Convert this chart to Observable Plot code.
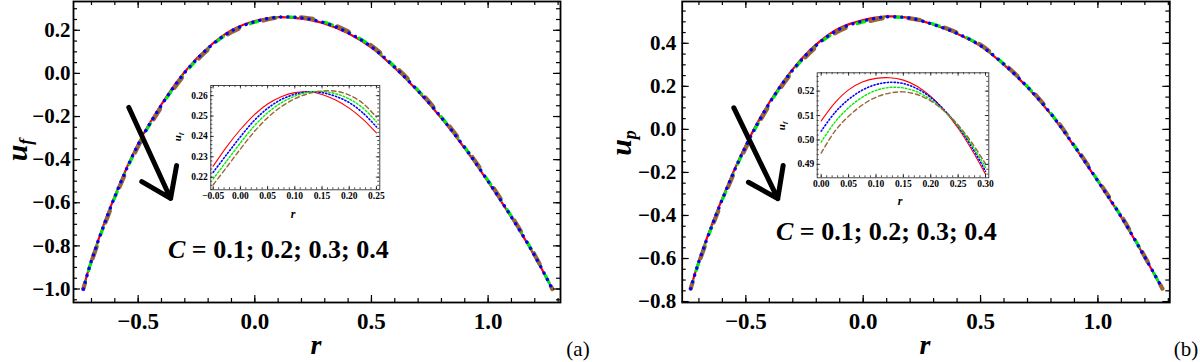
<!DOCTYPE html>
<html>
<head>
<meta charset="utf-8">
<script src="https://cdn.jsdelivr.net/npm/d3@7"></script>
<script src="https://cdn.jsdelivr.net/npm/@observablehq/plot@0.6"></script>
<style>
  html, body { margin: 0; padding: 0; background: #fff; }
  #root { position: relative; width: 1200px; height: 362px; overflow: hidden; font-family: "Liberation Serif", "Times New Roman", serif; color: #000; }
  #root > svg { position: absolute; }
  .lbl { position: absolute; white-space: nowrap; line-height: 1.15; }
</style>
</head>
<body>
<div id="root"></div>
<script>
// ---------------- DATA ----------------
const C_VALUES = [0.1, 0.2, 0.3, 0.4];

// main panels: radial coordinate r
const rMain = [-0.735, -0.7, -0.6, -0.5, -0.4, -0.3, -0.2, -0.1, 0, 0.1, 0.2, 0.3, 0.4, 0.5, 0.6, 0.7, 0.8, 0.9, 1.0, 1.1, 1.2, 1.275];

// panel (a): u_f for C = 0.1, 0.2, 0.3, 0.4
const uA_C1 = [-1.000, -0.865, -0.568, -0.326, -0.143, 0.008, 0.120, 0.200, 0.243, 0.261, 0.254, 0.231, 0.186, 0.120, 0.025, -0.084, -0.208, -0.348, -0.503, -0.668, -0.848, -1.000];
const uA_C2 = [-1.000, -0.868, -0.572, -0.330, -0.147, 0.004, 0.117, 0.197, 0.240, 0.261, 0.257, 0.234, 0.189, 0.123, 0.028, -0.081, -0.205, -0.345, -0.500, -0.666, -0.846, -1.000];
const uA_C3 = [-1.000, -0.871, -0.576, -0.334, -0.151, 0.000, 0.114, 0.194, 0.237, 0.260, 0.258, 0.237, 0.192, 0.126, 0.031, -0.078, -0.202, -0.342, -0.497, -0.663, -0.844, -1.000];
const uA_C4 = [-1.000, -0.874, -0.580, -0.338, -0.155, -0.004, 0.111, 0.191, 0.234, 0.259, 0.260, 0.240, 0.195, 0.129, 0.034, -0.075, -0.199, -0.339, -0.494, -0.660, -0.842, -1.000];

// panel (b): u_p for C = 0.1, 0.2, 0.3, 0.4
const uB_C1 = [-0.740, -0.611, -0.320, -0.073, 0.125, 0.280, 0.395, 0.471, 0.508, 0.525, 0.518, 0.486, 0.444, 0.387, 0.300, 0.195, 0.070, -0.080, -0.242, -0.409, -0.595, -0.740];
const uB_C2 = [-0.740, -0.614, -0.324, -0.077, 0.121, 0.276, 0.391, 0.467, 0.504, 0.523, 0.517, 0.487, 0.446, 0.389, 0.302, 0.197, 0.072, -0.078, -0.240, -0.407, -0.594, -0.740];
const uB_C3 = [-0.740, -0.617, -0.328, -0.081, 0.117, 0.272, 0.387, 0.463, 0.499, 0.520, 0.517, 0.489, 0.448, 0.391, 0.304, 0.199, 0.074, -0.076, -0.238, -0.405, -0.593, -0.740];
const uB_C4 = [-0.740, -0.620, -0.332, -0.085, 0.113, 0.268, 0.383, 0.459, 0.495, 0.518, 0.516, 0.490, 0.450, 0.393, 0.306, 0.201, 0.076, -0.074, -0.236, -0.403, -0.592, -0.740];

// inset (a)
const rInsetA = [-0.05, -0.025, 0, 0.025, 0.05, 0.075, 0.1, 0.125, 0.15, 0.175, 0.2, 0.225, 0.25];
const insA_C1 = [0.2254, 0.2350, 0.2434, 0.2505, 0.2559, 0.2595, 0.2615, 0.2619, 0.2606, 0.2579, 0.2539, 0.2485, 0.2417];
const insA_C2 = [0.2224, 0.2312, 0.2398, 0.2477, 0.2538, 0.2581, 0.2607, 0.2619, 0.2615, 0.2597, 0.2566, 0.2516, 0.2447];
const insA_C3 = [0.2192, 0.2280, 0.2368, 0.2450, 0.2516, 0.2565, 0.2598, 0.2617, 0.2621, 0.2610, 0.2584, 0.2540, 0.2472];
const insA_C4 = [0.2163, 0.2250, 0.2338, 0.2422, 0.2492, 0.2546, 0.2585, 0.2610, 0.2623, 0.2622, 0.2603, 0.2563, 0.2495];

// inset (b)
const rInsetB = [0, 0.025, 0.05, 0.075, 0.1, 0.125, 0.15, 0.175, 0.2, 0.225, 0.25, 0.275, 0.3];
const insB_C1 = [0.5078, 0.5152, 0.5205, 0.5237, 0.5252, 0.5255, 0.5245, 0.5220, 0.5178, 0.5120, 0.5048, 0.4960, 0.4860];
const insB_C2 = [0.5036, 0.5112, 0.5166, 0.5204, 0.5227, 0.5236, 0.5231, 0.5210, 0.5174, 0.5122, 0.5055, 0.4971, 0.4872];
const insB_C3 = [0.4991, 0.5073, 0.5132, 0.5175, 0.5203, 0.5215, 0.5213, 0.5197, 0.5165, 0.5118, 0.5057, 0.4980, 0.4888];
const insB_C4 = [0.4946, 0.5036, 0.5097, 0.5143, 0.5175, 0.5192, 0.5197, 0.5186, 0.5160, 0.5118, 0.5061, 0.4989, 0.4902];

// tick values
const xTicksMain = [-0.5, 0.0, 0.5, 1.0];
const yTicksA = [-1.0, -0.8, -0.6, -0.4, -0.2, 0.0, 0.2];
const yTicksB = [-0.8, -0.6, -0.4, -0.2, 0.0, 0.2, 0.4];
const xTicksInsetA = [-0.05, 0.00, 0.05, 0.10, 0.15, 0.20, 0.25];
const yTicksInsetA = [0.22, 0.23, 0.24, 0.25, 0.26];
const xTicksInsetB = [0.00, 0.05, 0.10, 0.15, 0.20, 0.25, 0.30];
const yTicksInsetB = [0.49, 0.50, 0.51, 0.52];

// annotation arrows (data coordinates)
const arrowA = [{x1: -0.540, y1: -0.158, x2: -0.361, y2: -0.580}];
const arrowB = [{x1: -0.551, y1: 0.100, x2: -0.364, y2: -0.322}];

const annotationText = "= 0.1; 0.2; 0.3; 0.4";

// ---------------- STYLES ----------------
const COLORS = ["#ff0000", "#0000ff", "#00ee00", "#996633"];
// draw order: red, green, brown, blue (dots on top)
const DRAW_ORDER = [0, 2, 3, 1];
const mainStyles = [
  {stroke: COLORS[0], strokeWidth: 2.2},
  {stroke: COLORS[1], strokeWidth: 3.4, strokeDasharray: "0.1 7", strokeLinecap: "round"},
  {stroke: COLORS[2], strokeWidth: 3.2, strokeDasharray: "8 11"},
  {stroke: COLORS[3], strokeWidth: 4.2, strokeDasharray: "12 26", strokeDashoffset: 6}
];
const insetStyles = [
  {stroke: COLORS[0], strokeWidth: 1.1},
  {stroke: COLORS[1], strokeWidth: 1.6, strokeDasharray: "1.2 2.2"},
  {stroke: COLORS[2], strokeWidth: 1.4, strokeDasharray: "1.8 2"},
  {stroke: COLORS[3], strokeWidth: 1.4, strokeDasharray: "4.5 3"}
];

const rows = (rs, us, c) => rs.map((r, i) => ({r, u: us[i], C: c}));
const inDom = (arr, dom) => arr.filter(v => v >= dom[0] && v <= dom[1]);
const root = document.getElementById("root");

function frameTicks(xMaj, xMin, yMaj, yMin, pw, ph, maj, min, sw) {
  const st = {stroke: "#000", strokeWidth: sw};
  return [
    Plot.tickX(xMin, {x: d => d, insetTop: ph - min, ...st}),
    Plot.tickX(xMin, {x: d => d, insetBottom: ph - min, ...st}),
    Plot.tickX(xMaj, {x: d => d, insetTop: ph - maj, ...st}),
    Plot.tickX(xMaj, {x: d => d, insetBottom: ph - maj, ...st}),
    Plot.tickY(yMin, {y: d => d, insetRight: pw - min, ...st}),
    Plot.tickY(yMin, {y: d => d, insetLeft: pw - min, ...st}),
    Plot.tickY(yMaj, {y: d => d, insetRight: pw - maj, ...st}),
    Plot.tickY(yMaj, {y: d => d, insetLeft: pw - maj, ...st})
  ];
}

function mainPlot(cfg) {
  const W = 600, H = 362, mt = 1, mb = 60;
  const pw = W - cfg.ml - cfg.mr, ph = H - mt - mb;
  const xMinor = inDom(d3.range(-0.7, 1.31, 0.1).map(v => +v.toFixed(2)), cfg.xDomain);
  const yMinor = inDom(d3.range(-1.05, 0.61, 0.05).map(v => +v.toFixed(2)), cfg.yDomain);
  const lines = DRAW_ORDER.map(i =>
    Plot.line(rows(rMain, cfg.series[i], C_VALUES[i]), {x: "r", y: "u", curve: "catmull-rom", ...mainStyles[i]}));
  const svg = Plot.plot({
    width: W, height: H,
    marginLeft: cfg.ml, marginRight: cfg.mr, marginTop: mt, marginBottom: mb,
    x: {domain: cfg.xDomain}, y: {domain: cfg.yDomain},
    style: {fontFamily: "'Liberation Serif', serif", background: "transparent", overflow: "visible"},
    marks: [
      ...lines,
      Plot.arrow(cfg.arrow, {x1: "x1", y1: "y1", x2: "x2", y2: "y2", stroke: "#000", strokeWidth: 5, headLength: 24, headAngle: 70}),
      ...frameTicks(cfg.xTicks, xMinor, cfg.yTicks, yMinor, pw, ph, 7, 4, 1.2),
      Plot.frame({stroke: "#000", strokeWidth: 1.8}),
      Plot.axisX(cfg.xTicks, {tickSize: 0, tickPadding: 10, tickFormat: d3.format(".1f"), fontSize: 23, fontWeight: "bold", label: null}),
      Plot.axisY(cfg.yTicks, {tickSize: 0, tickPadding: cfg.yPad, tickFormat: d3.format(".1f"), fontSize: 21, fontWeight: "bold", label: null})
    ]
  });
  svg.style.left = cfg.left + "px";
  svg.style.top = "0px";
  root.appendChild(svg);
}

function insetPlot(cfg) {
  const pw = cfg.W - cfg.ml - cfg.mr, ph = cfg.H - cfg.mt - cfg.mb;
  const lines = cfg.series.map((us, i) =>
    Plot.line(rows(cfg.rs, us, C_VALUES[i]), {x: "r", y: "u", curve: "catmull-rom", ...insetStyles[i]}));
  const svg = Plot.plot({
    width: cfg.W, height: cfg.H,
    marginLeft: cfg.ml, marginRight: cfg.mr, marginTop: cfg.mt, marginBottom: cfg.mb,
    x: {domain: cfg.xDomain}, y: {domain: cfg.yDomain},
    style: {fontFamily: "'Liberation Serif', serif", background: "transparent", overflow: "visible"},
    marks: [
      ...lines,
      ...frameTicks(cfg.xTicks, inDom(cfg.xMinor, cfg.xDomain), cfg.yTicks, inDom(cfg.yMinor, cfg.yDomain), pw, ph, 3.5, 2, 0.7),
      Plot.frame({stroke: "#333", strokeWidth: 0.9}),
      Plot.axisX(cfg.xTicks, {tickSize: 0, tickPadding: 2, tickFormat: d3.format(".2f"), fontSize: 9.5, fontWeight: "bold", label: null}),
      Plot.axisY(cfg.yTicks, {tickSize: 0, tickPadding: 3, tickFormat: d3.format(".2f"), fontSize: 9.5, fontWeight: "bold", label: null})
    ]
  });
  svg.style.left = cfg.left + "px";
  svg.style.top = cfg.top + "px";
  root.appendChild(svg);
}

function label(html, cx, cy, css, rotate) {
  const d = document.createElement("div");
  d.className = "lbl";
  d.innerHTML = html;
  d.style.cssText += css;
  d.style.left = cx + "px";
  d.style.top = cy + "px";
  d.style.transform = "translate(-50%, -50%)" + (rotate ? " rotate(-90deg)" : "");
  root.appendChild(d);
}
function labelStart(html, x, cy, css) {
  const d = document.createElement("div");
  d.className = "lbl";
  d.innerHTML = html;
  d.style.cssText += css;
  d.style.left = x + "px";
  d.style.top = cy + "px";
  d.style.transform = "translate(0, -50%)";
  root.appendChild(d);
}

// ---------------- PANELS ----------------
mainPlot({left: 0, ml: 73, mr: 40, xDomain: [-0.7771, 1.3103], yDomain: [-1.0626, 0.3335],
  series: [uA_C1, uA_C2, uA_C3, uA_C4], xTicks: xTicksMain, yTicks: yTicksA, yPad: 3, arrow: arrowA});
mainPlot({left: 600, ml: 81.7, mr: 30.7, xDomain: [-0.7712, 1.3063], yDomain: [-0.8044, 0.5943],
  series: [uB_C1, uB_C2, uB_C3, uB_C4], xTicks: xTicksMain, yTicks: yTicksB, yPad: 6, arrow: arrowB});

insetPlot({left: 150, top: 60, W: 240, H: 165, ml: 60.3, mr: 10.7, mt: 25, mb: 35.7,
  xDomain: [-0.0544, 0.2562], yDomain: [0.2138, 0.2650], rs: rInsetA,
  series: [insA_C1, insA_C2, insA_C3, insA_C4],
  xTicks: xTicksInsetA, yTicks: yTicksInsetA,
  xMinor: d3.range(-0.05, 0.26, 0.01).map(v => +v.toFixed(3)),
  yMinor: d3.range(0.214, 0.265, 0.002).map(v => +v.toFixed(4))});
insetPlot({left: 760, top: 50, W: 240, H: 165, ml: 56.7, mr: 11.7, mt: 22.3, mb: 37.7,
  xDomain: [-0.0073, 0.306], yDomain: [0.4845, 0.5275], rs: rInsetB,
  series: [insB_C1, insB_C2, insB_C3, insB_C4],
  xTicks: xTicksInsetB, yTicks: yTicksInsetB,
  xMinor: d3.range(0, 0.31, 0.01).map(v => +v.toFixed(3)),
  yMinor: d3.range(0.486, 0.528, 0.002).map(v => +v.toFixed(4))});

// ---------------- TEXT LABELS ----------------
const bigItal = "font: italic bold 30px 'Liberation Serif', serif;";
label("u<sub style='font-size:18px;vertical-align:-5px'>f</sub>", 18, 150, bigItal, true);
label("u<sub style='font-size:18px;vertical-align:-5px'>p</sub>", 622, 143, bigItal, true);
label("r", 316, 345, "font: italic bold 28px 'Liberation Serif', serif;");
label("r", 925, 345, "font: italic bold 28px 'Liberation Serif', serif;");
label("(a)", 578, 349, "font: 21px 'Liberation Serif', serif;");
label("(b)", 1186, 349, "font: 21px 'Liberation Serif', serif;");

const insItal = "font: italic bold 11px 'Liberation Serif', serif;";
label("u<sub style='font-size:7px;vertical-align:-2px'>f</sub>", 178, 137, insItal, true);
label("u<sub style='font-size:7px;vertical-align:-2px'>f</sub>", 782, 126, insItal, true);
label("r", 293, 214, "font: italic bold 12px 'Liberation Serif', serif;");
label("r", 900, 201, "font: italic bold 12px 'Liberation Serif', serif;");

const cCss = "font: bold 26px 'Liberation Serif', serif;";
labelStart("<i>C</i> " + annotationText, 168, 250, cCss);
labelStart("<i>C</i> " + annotationText, 776, 232, cCss);
</script>
</body>
</html>
